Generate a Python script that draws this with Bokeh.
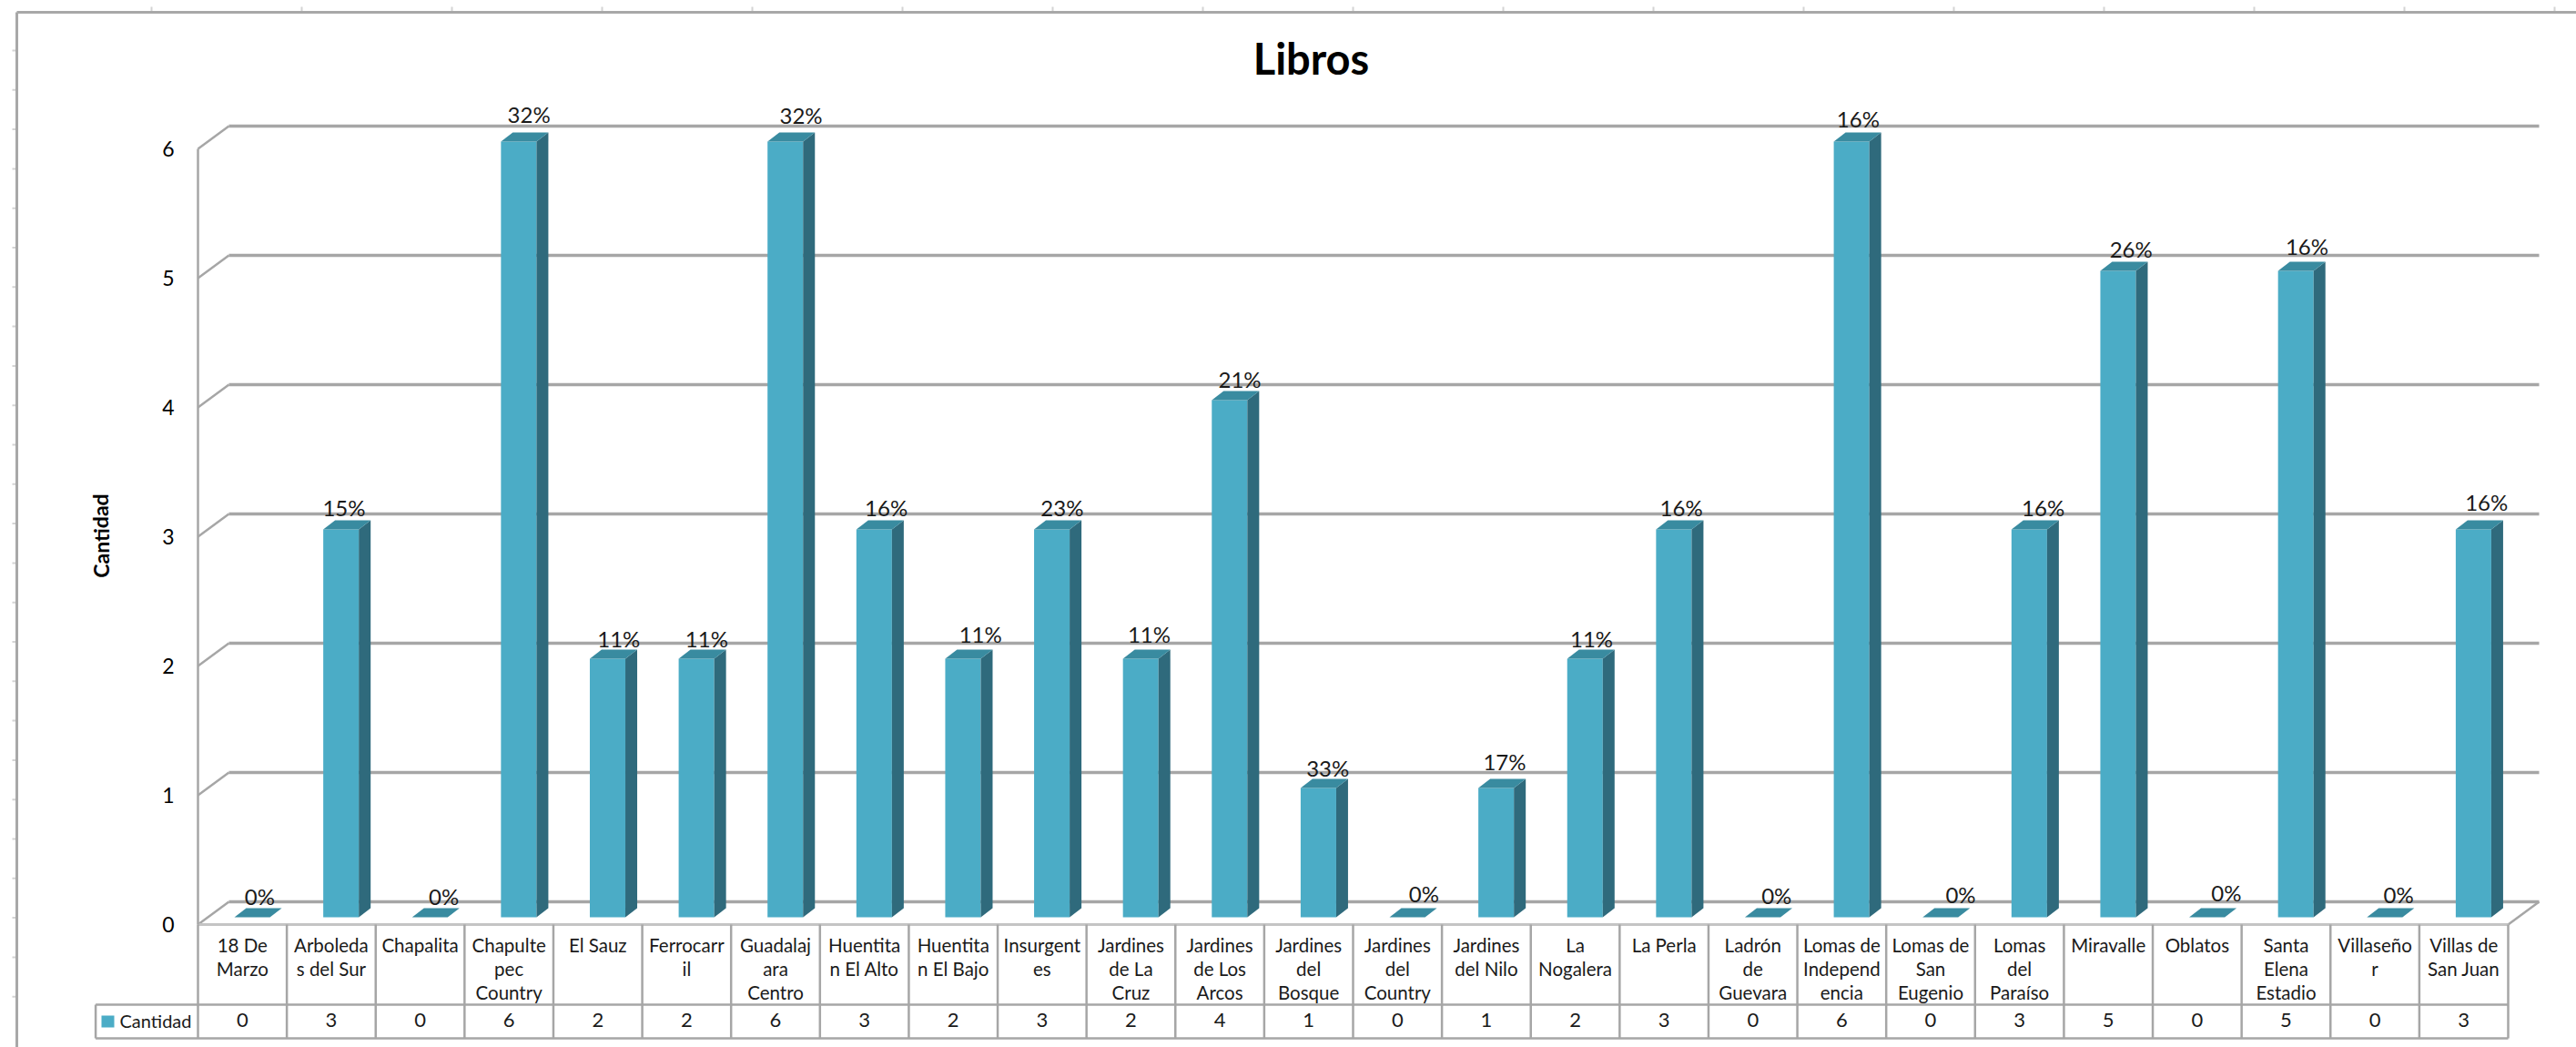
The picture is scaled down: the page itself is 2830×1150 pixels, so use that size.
from bokeh.plotting import figure
from bokeh.models import Range1d, LinearAxis, FixedTicker
from bokeh.core.properties import value
from bokeh.embed import file_html
from bokeh.resources import INLINE

title = "Libros"
y_title = "Cantidad"
series_name = "Cantidad"
categories = ["18 De\nMarzo", "Arboleda\ns del Sur", "Chapalita", "Chapulte\npec\nCountry", "El Sauz",
              "Ferrocarr\nil", "Guadalaj\nara\nCentro", "Huentita\nn El Alto", "Huentita\nn El Bajo",
              "Insurgent\nes", "Jardines\nde La\nCruz", "Jardines\nde Los\nArcos", "Jardines\ndel\nBosque",
              "Jardines\ndel\nCountry", "Jardines\ndel Nilo", "La\nNogalera", "La Perla", "Ladrón\nde\nGuevara",
              "Lomas de\nIndepend\nencia", "Lomas de\nSan\nEugenio", "Lomas\ndel\nParaíso", "Miravalle",
              "Oblatos", "Santa\nElena\nEstadio", "Villaseño\nr", "Villas de\nSan Juan"]
values = [0, 3, 0, 6, 2, 2, 6, 3, 2, 3, 2, 4, 1, 0, 1, 2, 3, 0, 6, 0, 3, 5, 0, 5, 0, 3]
percents = ["0%", "15%", "0%", "32%", "11%", "11%", "32%", "16%", "11%", "23%", "11%", "21%", "33%",
            "0%", "17%", "11%", "16%", "0%", "16%", "0%", "16%", "26%", "0%", "16%", "0%", "16%"]
y_ticks = [0, 1, 2, 3, 4, 5, 6]

# Label placement nudges in pixels (style only)
label_dx = [19, 14, 26, 22, 23, 22, 28, 24, 30, 22, 20, 22, 21, 29, 20, 18, 19, 26, 18, 33, 26, 25, 32, 23, 26, 25]
label_dy = [13, 14, 13, 20, 12, 12, 19, 14, 17, 14, 17, 13, 12, 16, 19, 12, 14, 14, 15, 15, 14, 14, 17, 17, 15, 20]

# Geometry of the page
W, H = 2830, 1150
CAT_PX = 97.615
UNIT_PX = 142.0
X0, Y0 = 217.0, 1015.0
FONT = value("Lato")
GRID = "#A6A6A6"
FRONT, SIDE, TOP = "#4BACC6", "#2F6A7C", "#398BA0"

x_range = Range1d(-X0 / CAT_PX, (W - X0) / CAT_PX)
y_range = Range1d((Y0 - H) / UNIT_PX, Y0 / UNIT_PX)
p = figure(width=W, height=H, x_range=x_range, y_range=y_range, output_backend="svg",
           toolbar_location=None, min_border=0, x_axis_type=None, y_axis_type=None)
p.outline_line_color = None
p.background_fill_color = "white"
p.border_fill_color = "white"
p.extra_x_ranges["page"] = Range1d(0, W)
p.extra_y_ranges["page"] = Range1d(H, 0)
PG = dict(x_range_name="page", y_range_name="page")

# Surrounding sheet frame and its faint ruler ticks
xt = [166 + 165 * i for i in range(17)]
yt = [55 + 43.3 * i for i in range(25)]
p.segment(xt, [7] * len(xt), xt, [13] * len(xt), line_color="#D4D4D4", line_width=2, **PG)
p.segment([13] * len(yt), yt, [18] * len(yt), yt, line_color="#D4D4D4", line_width=2, **PG)
p.segment([18, 18], [13, 13], [2830, 18], [13, 1150], line_color="#A8A8A8", line_width=3, **PG)

# 3-D walls: back gridlines plus diagonal connectors
n = len(categories)
DX, DY = 34 / CAT_PX, 25 / UNIT_PX
p.segment([DX] * 7, [v + DY for v in y_ticks], [n + DX] * 7, [v + DY for v in y_ticks],
          line_color=GRID, line_width=3.5)
p.segment([0] * 7, y_ticks, [DX] * 7, [v + DY for v in y_ticks], line_color=GRID, line_width=2.5)
p.segment([n], [0], [n + DX], [DY], line_color=GRID, line_width=2.5)
p.segment([0], [0], [n], [0], line_color="#C4C4C4", line_width=3)

# Bars: front face, side face, top face
B_OFF, B_W = 0.41, 0.40
LIFT = 8 / UNIT_PX
D_X, D_Y = 13 / CAT_PX, 10 / UNIT_PX
lefts = [i + B_OFF for i in range(n)]
rights = [l + B_W for l in lefts]
tops = [v + LIFT for v in values]
p.quad(left=lefts, right=rights, bottom=[LIFT] * n, top=tops, fill_color=FRONT, line_color=None)
p.patches([[r, r + D_X, r + D_X, r] for r in rights],
          [[LIFT, LIFT + D_Y, t + D_Y, t] for t in tops], fill_color=SIDE, line_color=None)
p.patches([[l, r, r + D_X, l + D_X] for l, r in zip(lefts, rights)],
          [[t, t, t + D_Y, t + D_Y] for t in tops], fill_color=TOP, line_color=None)

# Value axis
axis = LinearAxis(ticker=FixedTicker(ticks=y_ticks), fixed_location=0, bounds=(0, 6))
axis.axis_line_color = GRID
axis.axis_line_width = 2.5
axis.major_tick_line_color = None
axis.minor_tick_line_color = None
axis.major_tick_in = 0
axis.major_tick_out = 0
axis.major_label_standoff = 26
axis.major_label_text_font = "Lato"
axis.major_label_text_font_size = "23px"
axis.major_label_text_color = "#000000"
p.add_layout(axis, "left")

# Data labels
lx = [i + 0.5 + d / CAT_PX for i, d in enumerate(label_dx)]
ly = [v + LIFT + D_Y + d / UNIT_PX for v, d in zip(values, label_dy)]
p.text(lx, ly, text=percents, text_font=FONT, text_font_size="24px", text_color="#1A1A1A",
       text_align="center", text_baseline="middle")

# Data table below the chart
ROW1, ROW2 = 1103, 1140
xs = [X0 + CAT_PX * i for i in range(n + 1)]
p.segment(xs, [1015] * (n + 1), xs, [ROW2] * (n + 1), line_color=GRID, line_width=2.5, **PG)
p.segment([104.6, 104.6], [ROW1, ROW2], [2755, 2755], [ROW1, ROW2], line_color=GRID, line_width=2.5, **PG)
p.segment([104.6], [ROW1], [104.6], [ROW2], line_color=GRID, line_width=2.5, **PG)
p.text([X0 + CAT_PX * (i + 0.5) for i in range(n)], [1025] * n, text=categories, text_font=FONT,
       text_font_size="20.5px", text_line_height=1.09, text_align="center", text_baseline="top",
       text_color="#1A1A1A", **PG)
p.text([X0 + CAT_PX * (i + 0.5) for i in range(n)], [1120] * n, text=[str(v) for v in values], text_font=FONT,
       text_font_size="22px", text_align="center", text_baseline="middle", text_color="#1A1A1A", **PG)
p.quad(left=[111], right=[125], top=[1115], bottom=[1128], fill_color=FRONT, line_color=None, **PG)
p.text([131], [1120], text=[series_name], text_font=FONT, text_font_size="20px", text_align="left",
       text_baseline="middle", text_color="#1A1A1A", **PG)

# Titles
p.text([1440], [63], text=[title], text_font=FONT, text_font_style="bold", text_font_size="47px",
       text_align="center", text_baseline="middle", text_color="#000000", **PG)
p.text([110], [588], text=[y_title], text_font=FONT, text_font_style="bold", text_font_size="23px",
       angle=1.5708, text_align="center", text_baseline="middle", text_color="#000000", **PG)

open("out.html", "w").write(file_html(p, INLINE))
